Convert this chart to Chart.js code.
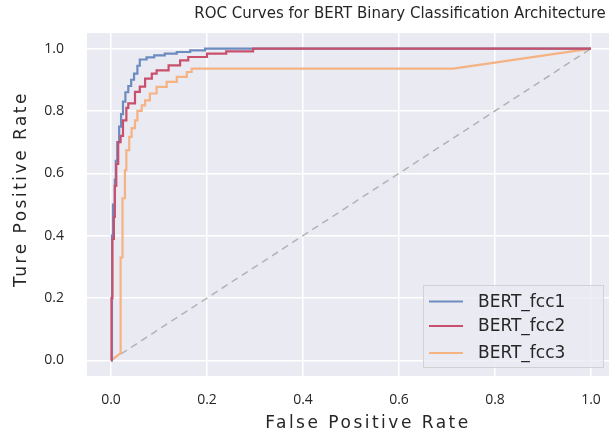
<!DOCTYPE html>
<html>
<head>
<meta charset="utf-8">
<script src="https://cdn.jsdelivr.net/npm/chart.js@4.4.1/dist/chart.umd.min.js"></script>
<style>
  html, body { margin: 0; padding: 0; background: #fff; overflow: hidden; }
  #wrap { width: 609px; height: 436px; }
</style>
</head>
<body>
<div id="wrap"><canvas id="roc" width="609" height="436"></canvas></div>
<script>
// ---- data (fpr of each vertical step, tpr at its top) ----
const labels = ['BERT_fcc1', 'BERT_fcc2', 'BERT_fcc3'];
const fpr1 = [0.002, 0.004, 0.008, 0.010, 0.013, 0.017, 0.021, 0.025, 0.030, 0.036, 0.042, 0.048, 0.055, 0.060, 0.074, 0.090, 0.112, 0.137, 0.165, 0.196, 1.0];
const tpr1 = [0.40, 0.50, 0.58, 0.64, 0.70, 0.75, 0.79, 0.83, 0.86, 0.88, 0.90, 0.92, 0.945, 0.965, 0.972, 0.978, 0.984, 0.989, 0.994, 1.0, 1.0];
const fpr2 = [0.001, 0.003, 0.006, 0.008, 0.011, 0.015, 0.020, 0.025, 0.032, 0.036, 0.050, 0.060, 0.071, 0.085, 0.095, 0.120, 0.144, 0.161, 0.200, 0.240, 0.296, 1.0];
const tpr2 = [0.20, 0.39, 0.46, 0.56, 0.63, 0.70, 0.72, 0.77, 0.81, 0.824, 0.861, 0.878, 0.904, 0.92, 0.93, 0.946, 0.962, 0.973, 0.984, 0.991, 1.0, 1.0];
const fpr3 = [0.020, 0.020, 0.024, 0.029, 0.032, 0.038, 0.043, 0.050, 0.055, 0.064, 0.071, 0.081, 0.095, 0.116, 0.137, 0.158, 0.168, 0.713];
const tpr3 = [0.023, 0.33, 0.52, 0.61, 0.674, 0.717, 0.745, 0.77, 0.80, 0.818, 0.834, 0.856, 0.877, 0.893, 0.909, 0.925, 0.936, 0.936];
const xTicks = [0.0, 0.2, 0.4, 0.6, 0.8, 1.0];
const yTicks = [0.0, 0.2, 0.4, 0.6, 0.8, 1.0];
const colors = ['#6c8cc0', '#c8506c', '#f5b283'];

// build the staircase corners: horizontal to next fpr, then up to its tpr
function stairs(fpr, tpr, y0) {
  const pts = [];
  let prev = y0;
  for (let i = 0; i < fpr.length; i++) {
    pts.push({x: fpr[i], y: prev});
    pts.push({x: fpr[i], y: tpr[i]});
    prev = tpr[i];
  }
  return pts;
}

const curves = [
  [{x: 0, y: 0}, ...stairs(fpr1, tpr1, 0)],
  [{x: 0, y: 0}, ...stairs(fpr2, tpr2, 0)],
  [{x: 0, y: 0}, {x: fpr3[0], y: tpr3[0]}, ...stairs(fpr3.slice(1), tpr3.slice(1), tpr3[0]), {x: 1, y: 1}]
];

const datasets = [{
  label: 'chance',
  data: [{x: 0, y: 0}, {x: 1, y: 1}],
  borderColor: '#b3b3b3',
  borderWidth: 1.5,
  borderDash: [7, 5],
  pointRadius: 0,
  order: 5
}];
// draw order: fcc3 under, fcc1, fcc2 on top
[2, 0, 1].forEach(function (i, k) {
  datasets.push({
    label: labels[i],
    data: curves[i],
    borderColor: colors[i],
    borderWidth: 2.2,
    pointRadius: 0,
    tension: 0,
    order: 3 - k
  });
});

const plotBg = {
  id: 'plotBg',
  beforeDraw(chart) {
    const {ctx, chartArea: a} = chart;
    ctx.save();
    ctx.fillStyle = '#eaeaf2';
    ctx.fillRect(a.left, a.top, a.right - a.left, a.bottom - a.top);
    ctx.restore();
  }
};

const texts = {
  id: 'texts',
  afterDraw(chart) {
    const ctx = chart.ctx;
    ctx.save();
    ctx.fillStyle = '#262626';
    ctx.textAlign = 'center';
    ctx.textBaseline = 'middle';
    ctx.font = '15px "DejaVu Sans"';
    ctx.fillText('ROC Curves for BERT Binary Classification Architecture', 400, 14);

    ctx.font = '17px "DejaVu Sans"';
    ctx.letterSpacing = '2.5px';
    ctx.fillText('False Positive Rate', 368, 424);
    ctx.translate(22, 189);
    ctx.rotate(-Math.PI / 2);
    ctx.fillText('Ture Positive Rate', 0, 0);
    ctx.restore();

    // legend box
    ctx.save();
    ctx.fillStyle = 'rgba(234,234,242,0.8)';
    ctx.strokeStyle = 'rgba(204,204,204,0.8)';
    ctx.lineWidth = 1;
    ctx.beginPath();
    ctx.rect(423.5, 285.5, 180, 82);
    ctx.fill();
    ctx.stroke();
    const rows = [301.5, 326, 353];
    ctx.font = '17px "DejaVu Sans"';
    ctx.textBaseline = 'middle';
    ctx.textAlign = 'left';
    for (let i = 0; i < 3; i++) {
      ctx.strokeStyle = colors[i];
      ctx.lineWidth = 2.2;
      ctx.beginPath();
      ctx.moveTo(429, rows[i]);
      ctx.lineTo(463, rows[i]);
      ctx.stroke();
      ctx.fillStyle = '#262626';
      ctx.fillText(labels[i], 478, rows[i] + 1);
    }
    ctx.restore();
  }
};

new Chart(document.getElementById('roc'), {
  type: 'line',
  data: { datasets: datasets },
  options: {
    responsive: false,
    animation: false,
    layout: { padding: { top: 33, right: 0, left: 0, bottom: 0 } },
    plugins: { legend: { display: false }, title: { display: false }, tooltip: { enabled: false } },
    scales: {
      x: {
        type: 'linear',
        min: -0.05,
        max: 1.0375,
        afterFit(s) { s.height = 60; s.paddingLeft = 0; s.paddingRight = 0; },
        afterBuildTicks(s) { s.ticks = xTicks.map(v => ({value: v})); },
        grid: { color: '#ffffff', lineWidth: 1.5, drawTicks: false },
        border: { display: false },
        ticks: { padding: 16, color: '#262626', font: { family: '"Open Sans"', size: 14 }, callback: v => v.toFixed(1) }
      },
      y: {
        type: 'linear',
        min: -0.05,
        max: 1.05,
        afterFit(s) { s.width = 87; s.paddingTop = 0; s.paddingBottom = 0; },
        afterBuildTicks(s) { s.ticks = yTicks.map(v => ({value: v})); },
        grid: { color: '#ffffff', lineWidth: 1.5, drawTicks: false },
        border: { display: false },
        ticks: { padding: 23, color: '#262626', font: { family: '"Open Sans"', size: 14 }, callback: v => v.toFixed(1) }
      }
    }
  },
  plugins: [plotBg, texts]
});
</script>
</body>
</html>
